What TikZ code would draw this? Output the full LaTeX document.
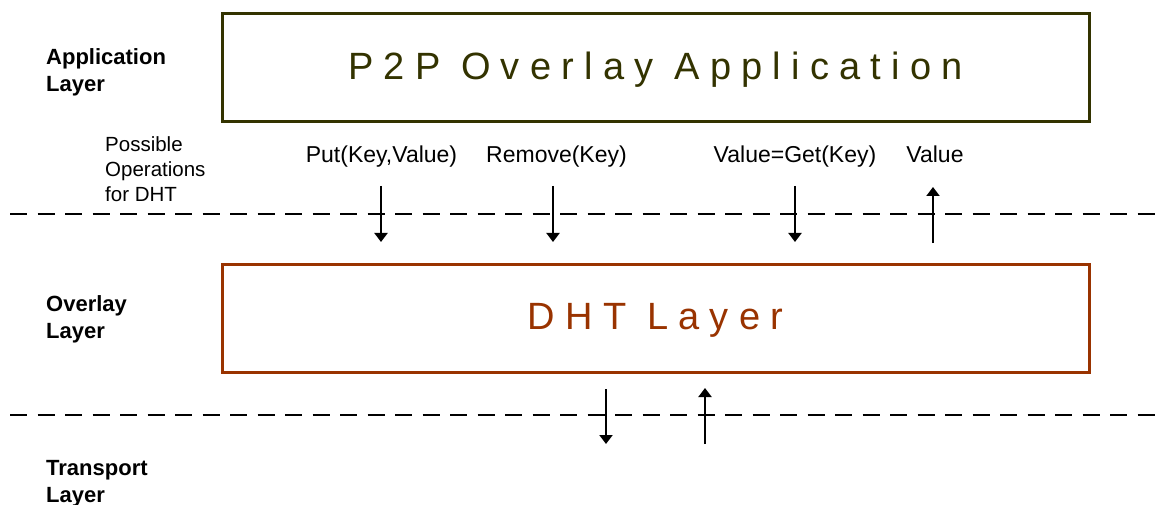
\documentclass[tikz,border=0pt]{standalone}
\usepackage{fontspec}
\setmainfont{Liberation Sans}
\newfontfamily\spacedfont[LetterSpace=27]{Liberation Sans}
\usetikzlibrary{arrows.meta}
\definecolor{appcol}{HTML}{333300}
\definecolor{dhtcol}{HTML}{993300}
\tikzset{
  layerbox/.style={draw, line width=3pt, minimum width=867pt, minimum height=108pt, inner sep=0pt},
  layerlabel/.style={font=\fontsize{22}{27}\selectfont\bfseries, anchor=base west, inner sep=0pt, align=left},
  oplabel/.style={font=\fontsize{23}{27}\selectfont, anchor=base, inner sep=0pt},
  notelabel/.style={font=\fontsize{20.5}{25}\selectfont, anchor=base west, inner sep=0pt, align=left},
  divider/.style={line width=2.2pt, dash pattern=on 17pt off 10.5pt},
  oparrow/.style={line width=2pt, -{Triangle[length=9pt,width=13pt]}},
  bigtext/.style={font=\fontsize{38}{38}\selectfont\spacedfont, anchor=base, inner sep=0pt}
}
\begin{document}
\begin{tikzpicture}[x=1pt,y=-1pt]
\useasboundingbox (0,0) rectangle (1159,505);
% boxes
\node[layerbox, draw=appcol] (app) at (655.5,67.5) {};
\node[bigtext, text=appcol] (apptext) at (655.5,80) {P2P Overlay Application};
\node[layerbox, draw=dhtcol] (dht) at (655.5,318) {};
\node[bigtext, text=dhtcol] (dhttext) at (655.5,329) {DHT Layer};
% layer labels (base anchor = last line)
\node[layerlabel] (applabel) at (46,92) {Application\\Layer};
\node[layerlabel] (ovlabel) at (46,338) {Overlay\\Layer};
\node[layerlabel] (trlabel) at (46,502) {Transport\\Layer};
\node[notelabel] (note) at (105,202) {Possible\\Operations\\for DHT};
% operations
\node[oplabel] (put) at (381.5,163) {Put(Key,Value)};
\node[oplabel] (rem) at (556.5,163) {Remove(Key)};
\node[oplabel] (get) at (795,163) {Value=Get(Key)};
\node[oplabel] (val) at (935,163) {Value};
% dividers
\coordinate (d1l) at (10,214); \coordinate (d1r) at (1159,214);
\coordinate (d2l) at (10,415); \coordinate (d2r) at (1159,415);
\draw[divider] (d1l) -- (d1r);
\draw[divider] (d2l) -- (d2r);
% arrows upper
\coordinate (a1s) at (381,186); \coordinate (a1e) at (381,242);
\coordinate (a2s) at (553,186); \coordinate (a2e) at (553,242);
\coordinate (a3s) at (795,186); \coordinate (a3e) at (795,242);
\coordinate (a4s) at (933,243); \coordinate (a4e) at (933,187);
\draw[oparrow] (a1s) -- (a1e);
\draw[oparrow] (a2s) -- (a2e);
\draw[oparrow] (a3s) -- (a3e);
\draw[oparrow] (a4s) -- (a4e);
% arrows lower
\coordinate (b1s) at (606,389); \coordinate (b1e) at (606,444);
\coordinate (b2s) at (705,444); \coordinate (b2e) at (705,388);
\draw[oparrow] (b1s) -- (b1e);
\draw[oparrow] (b2s) -- (b2e);
\end{tikzpicture}
\end{document}
